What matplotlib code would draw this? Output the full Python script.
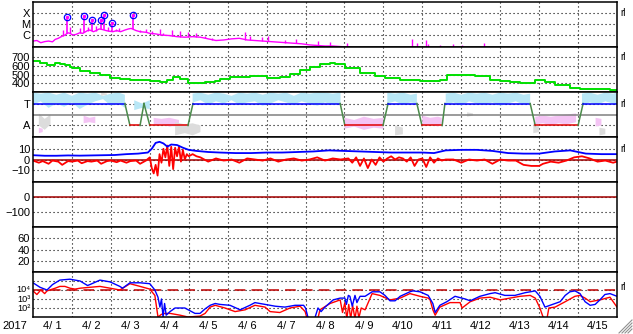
import numpy as np
import matplotlib
matplotlib.use('Agg')
import matplotlib.pyplot as plt
from matplotlib.lines import Line2D

plt.rcParams['font.family'] = ['Liberation Sans', 'DejaVu Sans']

# ---------------------------------------------------------------------------
# data (time in days from 2017-04-01 00:00)
# ---------------------------------------------------------------------------
days = ['4/ 1', '4/ 2', '4/ 3', '4/ 4', '4/ 5', '4/ 6', '4/ 7', '4/ 8', '4/ 9',
        '4/10', '4/11', '4/12', '4/13', '4/14', '4/15']

# X-ray flux, log10(W/m2)
xray_t = [0, 0.1, 0.2, 0.3, 0.4, 0.5, 0.57, 0.65, 0.75, 0.82, 0.9, 0.95, 1.02, 1.1, 1.2,
          1.28, 1.4, 1.46, 1.55, 1.62, 1.7, 1.78, 1.88, 1.95, 2.05, 2.15, 2.25, 2.36, 2.45,
          2.52, 2.65, 2.75, 2.9, 3.0, 3.15, 3.3, 3.5, 3.7, 3.9, 4.1, 4.3, 4.5, 4.7, 4.9,
          5.1, 5.3, 5.5, 5.7, 5.9, 6.1, 6.3, 6.5, 6.7, 6.9, 7.1, 7.3, 7.5, 7.7, 7.9, 8.1,
          8.3, 8.6, 9.0, 15.0]
xray_v = [-6.55, -6.5, -6.7, -6.6, -6.55, -6.62, -6.4, -6.3, -6.1, -6.0, -5.8, -5.85, -6.0,
          -5.95, -5.8, -5.85, -5.6, -5.55, -5.7, -5.6, -5.45, -5.5, -5.6, -5.65, -5.7, -5.6,
          -5.7, -5.55, -5.45, -5.4, -5.6, -5.7, -5.75, -5.85, -5.9, -6.0, -6.05, -6.15, -6.2,
          -6.15, -6.2, -6.35, -6.5, -6.45, -6.35, -6.3, -6.45, -6.5, -6.55, -6.6, -6.65, -6.7,
          -6.75, -6.8, -6.9, -6.95, -7.0, -7.0, -7.05, -7.1, -7.2, -7.3, -7.4, -7.4]
spike_t = [0.77, 0.95, 1.21, 1.41, 1.62, 1.93, 2.13, 2.21, 2.41, 2.75, 2.9, 3.06, 3.26, 3.34,
           3.57, 3.78, 3.98, 4.19, 4.42, 4.6, 5.45, 5.57, 5.88, 6.04, 6.47, 6.76, 7.32, 7.63,
           8.07, 9.74, 9.86, 10.1, 10.15, 10.45, 10.79, 11.02, 11.58, 13.67, 14.41]
spike_v = [-5.55, -5.27, -5.36, -5.27, -5.18, -5.27, -5.45, -5.36, -5.45, -5.55, -5.45, -5.64,
           -5.45, -5.82, -5.55, -5.64, -5.73, -5.82, -6.09, -6.27, -5.73, -6.09, -6.18, -6.09,
           -6.45, -6.36, -6.55, -6.64, -6.73, -6.36, -6.73, -6.45, -6.82, -6.91, -6.82, -6.91,
           -6.73, -7.0, -7.0]
flare_t = [0.87, 1.31, 1.52, 1.75, 1.82, 2.03, 2.57]
flare_v = [-4.36, -4.27, -4.64, -4.64, -4.18, -4.91, -4.18]

# solar wind speed, km/s
speed_t = [0, 0.18, 0.36, 0.45, 0.57, 0.69, 0.82, 0.95, 1.0, 1.21, 1.46, 1.72, 1.98, 2.23,
           2.49, 2.75, 3.0, 3.26, 3.45, 3.6, 3.78, 3.98, 4.16, 4.42, 4.68, 4.8, 5.06, 5.57,
           6.0, 6.34, 6.6, 6.86, 7.12, 7.37, 7.63, 7.76, 8.01, 8.4, 8.78, 9.04, 9.43, 9.94,
           10.45, 10.63, 10.97, 11.36, 11.74, 12.0, 12.25, 12.51, 12.9, 13.15, 13.41, 13.79,
           14.05, 14.56, 14.82, 15.0]
speed_v = [655, 635, 615, 610, 630, 625, 612, 590, 575, 545, 520, 492, 465, 450, 443, 435,
           423, 420, 440, 473, 455, 403, 408, 412, 423, 455, 470, 480, 460, 470, 505, 550,
           590, 620, 640, 625, 575, 525, 490, 458, 435, 423, 443, 496, 492, 480, 435, 423,
           415, 403, 443, 415, 377, 346, 339, 339, 327, 320]

# IMF sector (T = +1, A = -1)
sector_t = [0, 2.36, 2.49, 2.75, 2.85, 3.0, 3.98, 4.11, 7.89, 8.01, 8.99, 9.12, 9.86, 9.99,
            10.51, 10.58, 12.77, 12.9, 14.0, 14.13, 15]
sector_v = [1, 1, -1, -1, 1, -1, -1, 1, 1, -1, -1, 1, 1, -1, -1, 1, 1, -1, -1, 1, 1]

# IMF angle clouds (upper / lower extent)
phiT_t = [0, 0.2, 0.4, 0.6, 0.8, 1.0, 1.2, 1.4, 1.6, 1.8, 2.0, 2.2, 2.36, np.nan,
          2.6, 2.8, 3.0, np.nan,
          4.1, 4.3, 4.5, 4.7, 4.9, 5.1, 5.3, 5.5, 5.7, 5.9, 6.1, 6.3, 6.5, 6.7, 6.9, 7.1,
          7.3, 7.5, 7.7, 7.9, np.nan,
          9.1, 9.3, 9.5, 9.7, 9.86, np.nan,
          10.6, 10.8, 11.0, 11.2, 11.4, 11.6, 11.8, 12.0, 12.2, 12.4, 12.6, 12.77, np.nan,
          14.1, 14.3, 14.5, 14.7, 14.9, 15.0]
phiT_hi = [2.0, 1.9, 2.0, 1.8, 2.0, 1.7, 2.0, 1.9, 2.0, 1.7, 1.9, 2.0, 1.8, np.nan,
           1.3, 1.0, 1.3, np.nan,
           1.9, 2.0, 1.8, 2.0, 1.9, 1.7, 2.0, 1.9, 2.0, 1.8, 2.0, 1.9, 2.0, 1.7, 2.0, 1.9,
           2.0, 2.0, 1.9, 2.0, np.nan,
           2.0, 1.9, 2.0, 1.8, 1.9, np.nan,
           1.9, 2.0, 1.8, 2.0, 1.9, 2.0, 1.8, 2.0, 1.9, 2.0, 1.8, 1.9, np.nan,
           1.9, 2.0, 1.8, 2.0, 1.9, 2.0]
phiT_lo = [0.9, 1.2, 0.6, 1.0, 0.7, 1.1, 0.5, 0.9, 1.2, 1.4, 0.8, 1.0, 0.6, np.nan,
           0.4, 0.6, 0.5, np.nan,
           1.1, 1.3, 0.9, 1.2, 1.0, 1.3, 0.9, 1.1, 1.2, 0.8, 1.0, 1.3, 1.1, 0.9, 1.2, 1.0,
           0.8, 1.1, 0.9, 1.0, np.nan,
           1.0, 1.2, 0.9, 1.1, 1.0, np.nan,
           0.9, 1.1, 0.8, 1.2, 1.0, 0.9, 1.1, 0.8, 1.0, 1.2, 0.9, 1.0, np.nan,
           0.8, 1.1, 0.9, 1.2, 1.0, 0.9]
phiA_t = [0.15, 0.25, np.nan, 1.3, 1.45, 1.6, np.nan, 3.1, 3.3, 3.5, 3.75, np.nan,
          8.0, 8.25, 8.5, 8.75, 9.0, np.nan, 10.0, 10.2, 10.4, 10.5, np.nan,
          12.9, 13.1, 13.3, 13.5, 13.7, 13.95, np.nan, 14.45, 14.6]
phiA_hi = [-1.2, -1.3, np.nan, -0.1, -0.3, -0.2, np.nan, -0.3, -0.4, -0.3, -0.5, np.nan,
           -0.3, -0.5, -0.2, -0.4, -0.3, np.nan, -0.1, -0.3, -0.2, -0.3, np.nan,
           -0.2, -0.1, -0.2, -0.1, 0.0, 0.1, np.nan, -0.3, -0.4]
phiA_lo = [-1.7, -1.6, np.nan, -0.8, -0.7, -0.8, np.nan, -1.0, -0.9, -1.1, -1.0, np.nan,
           -1.3, -1.1, -1.4, -1.2, -1.3, np.nan, -1.0, -0.9, -1.1, -0.8, np.nan,
           -0.9, -0.8, -1.0, -0.8, -0.9, -0.7, np.nan, -1.1, -1.0]
phiG_t = [0.15, 0.3, 0.45, np.nan, 1.75, 1.9, np.nan, 3.65, 3.9, 4.1, 4.3, np.nan,
          9.3, 9.5, np.nan, 11.15, 11.3, np.nan, 12.85, 13.0, np.nan, 14.55, 14.7]
phiG_hi = [0.1, -0.4, 0.0, np.nan, 2.0, 1.9, np.nan, -0.7, -0.9, -0.8, -1.0, np.nan,
           -1.0, -1.2, np.nan, 0.2, 0.1, np.nan, -0.8, -0.9, np.nan, -1.2, -1.3]
phiG_lo = [-1.0, -1.4, -0.9, np.nan, 1.7, 1.8, np.nan, -1.9, -1.7, -1.9, -1.6, np.nan,
           -1.9, -1.8, np.nan, -0.2, -0.1, np.nan, -1.7, -1.6, np.nan, -1.9, -1.8]

# IMF Bt (blue) and Bz (red), nT
bt_t = [0, 0.3, 0.6, 0.9, 1.2, 1.5, 1.8, 2.1, 2.4, 2.7, 2.95, 3.05, 3.15, 3.25, 3.35, 3.45,
        3.55, 3.7, 3.85, 4.0, 4.2, 4.5, 4.8, 5.2, 5.6, 6.0, 6.4, 6.8, 7.2, 7.6, 8.0, 8.4,
        8.8, 9.2, 9.6, 10.0, 10.3, 10.6, 11.0, 11.4, 11.8, 12.2, 12.6, 13.0, 13.4, 13.8,
        14.2, 14.6, 15.0]
bt_v = [4, 3.5, 3.5, 3.8, 3.6, 3.8, 4, 4.2, 5, 5.5, 6.5, 10, 15.5, 16.5, 15, 12, 14, 13.5,
        11, 9, 8, 7, 6.5, 6, 6, 6.5, 6.5, 7, 7.5, 8.5, 8, 7.5, 7, 6.5, 6.5, 6.5, 6, 8.5, 9,
        9, 8, 6, 5.5, 5.5, 7.5, 8.5, 5.5, 5, 5]
bz_t = [0, 0.15, 0.25, 0.4, 0.5, 0.65, 0.75, 0.9, 1.0, 1.15, 1.25, 1.4, 1.5, 1.65, 1.75,
        1.9, 2.0, 2.15, 2.25, 2.4, 2.5, 2.65, 2.75, 2.9, 3.0, 3.05, 3.1, 3.15, 3.2, 3.25,
        3.3, 3.35, 3.4, 3.45, 3.5, 3.55, 3.6, 3.65, 3.7, 3.75, 3.8, 3.85, 3.9, 3.95, 4.0,
        4.1, 4.2, 4.3, 4.5, 4.7, 4.9, 5.1, 5.3, 5.5, 5.7, 5.9, 6.1, 6.3, 6.5, 6.7, 6.9,
        7.1, 7.3, 7.5, 7.7, 7.9, 8.1, 8.2, 8.3, 8.4, 8.5, 8.6, 8.7, 8.8, 8.9, 9.0, 9.1,
        9.2, 9.3, 9.4, 9.5, 9.6, 9.7, 9.8, 9.9, 10.0, 10.1, 10.2, 10.3, 10.4, 10.5, 10.6,
        10.8, 11.0, 11.2, 11.4, 11.6, 11.8, 12.0, 12.2, 12.4, 12.6, 12.8, 13.0, 13.1, 13.3,
        13.5, 13.7, 13.9, 14.1, 14.3, 14.5, 14.7, 14.9, 15.0]
bz_v = [-1, -3, -1.5, -4, -1, -2, -5, -1.5, -2, -1, -3.5, -1.5, -2, -1, -4, -1.5, -1, -2.5,
        -1, -3, -1.5, -1, -4, -1, 2, -8, -13, -5, -15, 5, -3, 10, 2, 13, -6, 12, -9, 11, 3,
        12, -2, 9, 0, 5, 3, 5, 3, 2, -2, 1, -1, 0, -3, 1, 0, -1, 1, -2, 0, 1, -1, 0, 2, -1,
        1, 0, 1, -3, 2, -6, 1, -8, 0, -5, 2, -2, 1, 3, 0, 2, 1, -2, 2, -6, 0, 1, -7, 2, -3,
        1, -1, 0, 0, -3, 0, -1, 0, -4, 0, -1, -1, -5, -6, -6, -4, -2, -3, -1, 2, 3, 1, -2,
        -1, -3, -2]

# >2MeV electron flux, log10 (blue / red)
eb_t = [0, 0.18, 0.36, 0.5, 0.69, 0.95, 1.21, 1.4, 1.46, 1.72, 1.98, 2.23, 2.3, 2.49, 2.75,
        3.0, 3.13, 3.21, 3.26, 3.3, 3.34, 3.38, 3.42, 3.52, 3.65, 3.9, 4.16, 4.29, 4.42,
        4.55, 4.68, 4.8, 5.06, 5.32, 5.57, 5.7, 5.96, 6.22, 6.47, 6.73, 6.95, 7.0, 7.06,
        7.12, 7.24, 7.32, 7.4, 7.5, 7.71, 7.89, 8.01, 8.05, 8.1, 8.14, 8.2, 8.27, 8.32,
        8.4, 8.53, 8.71, 8.91, 9.04, 9.17, 9.3, 9.43, 9.68, 9.76, 9.94, 10.15, 10.27,
        10.33, 10.45, 10.63, 10.84, 11.1, 11.23, 11.48, 11.74, 11.87, 12.12, 12.38, 12.64,
        12.9, 13.02, 13.15, 13.28, 13.54, 13.67, 13.79, 13.92, 14.05, 14.18, 14.31, 14.44,
        14.56, 14.69, 14.82, 15.0]
eb_v = [4.8, 4.3, 4.0, 4.6, 5.1, 5.2, 5.0, 4.5, 4.6, 5.1, 4.9, 4.4, 4.2, 4.8, 4.8, 4.7, 4.0,
        3.2, 2.1, 3.0, 1.0, 2.5, 1.2, 1.6, 2.0, 2.0, 1.4, 1.4, 1.9, 2.3, 2.5, 2.4, 2.3, 1.8,
        2.3, 2.6, 2.4, 2.2, 2.1, 2.3, 2.3, 2.0, 1.0, 0.8, 0.9, 2.0, 1.6, 2.1, 2.9, 3.1, 3.1,
        2.4, 3.4, 3.3, 2.2, 3.4, 2.6, 3.3, 3.3, 3.8, 3.8, 3.4, 2.8, 2.8, 3.3, 3.8, 3.9, 3.8,
        3.4, 2.5, 1.5, 2.3, 2.7, 3.3, 3.0, 2.8, 3.3, 3.6, 3.7, 3.4, 3.4, 3.7, 3.9, 3.3, 2.1,
        2.3, 2.7, 3.4, 3.8, 3.9, 3.6, 2.7, 2.3, 2.4, 2.9, 3.5, 3.6, 3.3]
er_t = [0, 0.1, 0.2, 0.3, 0.36, 0.57, 0.69, 0.82, 0.95, 1.08, 1.21, 1.46, 1.72, 1.98, 2.23,
        2.49, 2.75, 3.0, 3.13, 3.21, 3.3, 3.39, 3.52, 3.78, 3.98, 4.29, 4.42, 4.55, 4.68,
        4.93, 5.19, 5.45, 5.7, 5.96, 6.09, 6.34, 6.6, 6.86, 6.99, 7.06, 7.3, 7.37, 7.63,
        7.89, 7.95, 8.01, 8.06, 8.11, 8.16, 8.21, 8.27, 8.32, 8.37, 8.43, 8.53, 8.71, 8.91,
        9.17, 9.43, 9.68, 9.94, 10.15, 10.2, 10.27, 10.33, 10.45, 10.71, 10.97, 11.02,
        11.23, 11.48, 11.74, 12.0, 12.25, 12.51, 12.77, 12.9, 13.02, 13.1, 13.2, 13.25,
        13.41, 13.67, 13.92, 14.05, 14.18, 14.31, 14.56, 14.82, 15.0]
er_v = [3.9, 3.5, 4.0, 3.6, 3.9, 4.2, 4.4, 4.4, 4.2, 4.1, 4.2, 4.3, 4.4, 4.2, 4.0, 4.7, 4.4,
        4.1, 3.4, 1.0, 1.3, 1.4, 1.4, 1.2, 1.0, 1.1, 1.4, 2.1, 2.3, 2.0, 1.6, 1.8, 2.3, 2.1,
        1.6, 1.5, 2.0, 2.2, 1.6, 0.5, 0.5, 1.8, 2.5, 2.9, 1.5, 2.6, 0.8, 2.4, 0.8, 2.3, 0.8,
        2.2, 0.9, 2.0, 1.8, 3.6, 3.4, 2.9, 3.1, 3.6, 3.3, 3.1, 2.9, 1.8, 1.2, 2.1, 2.6, 2.6,
        2.0, 2.7, 3.1, 3.2, 2.9, 3.1, 3.3, 3.4, 3.1, 2.0, 1.0, 0.8, 2.0, 2.1, 2.7, 3.3, 3.4,
        3.1, 2.7, 2.9, 3.2, 2.1]
eflux_ticks = [1.9, 3.0, 4.1]
eflux_labels = ['10²', '10³', '10⁴']

# ---------------------------------------------------------------------------
# layout: seven stacked panels, pixel geometry of the original
# ---------------------------------------------------------------------------
W, H = 633, 334
L, R, TOP, PH = 33, 617, 2, 45
fig = plt.figure(figsize=(W / 100, H / 100), dpi=100)
axs = []
for i in range(7):
    top = TOP + PH * i
    ax = fig.add_axes([L / W, 1 - (top + PH) / H, (R - L) / W, PH / H])
    ax.set_xlim(0, 15)
    ax.set_xticks(range(1, 15))
    ax.tick_params(length=0, labelsize=8, pad=2)
    ax.tick_params(axis='x', labelbottom=False)
    ax.grid(True, color='black', linestyle=(0, (1, 2.6)), linewidth=0.8)
    for s in ax.spines.values():
        s.set_linewidth(1.1)
    ax.set_axisbelow(True)
    axs.append(ax)

# panel 1: X-ray
ax = axs[0]
ax.set_ylim(-7.09, -3.0)
ax.set_yticks([-6, -5, -4], ['C', 'M', 'X'])
ax.plot(xray_t, xray_v, color='#ff00ff', lw=1.0)
base = np.interp(spike_t, xray_t, xray_v)
ax.vlines(spike_t, base, spike_v, color='#ff00ff', lw=1.0)
fbase = np.interp(flare_t, xray_t, xray_v)
ax.vlines(flare_t, fbase, flare_v, color='#ff00ff', lw=1.2)
ax.plot(flare_t, flare_v, 'o', ms=4.6, mfc='none', mec='#0000ff', mew=0.9)
ax.plot(flare_t, flare_v, 'o', ms=1.5, color='#ff00ff')

# panel 2: solar wind speed
ax = axs[1]
ax.set_ylim(300, 820)
ax.set_yticks([400, 500, 600, 700])
ax.step(speed_t, speed_v, where='post', color='#00e000', lw=1.4)

# panel 3: sector
ax = axs[2]
ax.set_ylim(-2.05, 2.05)
ax.set_yticks([1, -1], ['T', 'A'])
ax.fill_between(phiT_t, phiT_lo, phiT_hi, color='#b8e7f6', lw=0)
ax.fill_between(phiA_t, phiA_lo, phiA_hi, color='#f4c4f4', lw=0)
ax.fill_between(phiG_t, phiG_lo, phiG_hi, color='#dcdcdc', lw=0)
ax.axhline(0, color='#808080', lw=1.1)
for i in range(len(sector_t) - 1):
    a, b = sector_v[i], sector_v[i + 1]
    c = '#0000ff' if a == b == 1 else ('#e00000' if a == b == -1 else '#4a8a4a')
    ax.plot(sector_t[i:i + 2], sector_v[i:i + 2], color=c, lw=1.1)

# panel 4: IMF
ax = axs[3]
ax.set_ylim(-21, 21)
ax.set_yticks([10, 0, -10])
ax.axhline(0, color='#a00000', lw=1.1)
ax.plot(bz_t, bz_v, color='#ff0000', lw=1.3)
ax.plot(bt_t, bt_v, color='#0000ff', lw=1.3)

# panel 5: Dst (no data)
ax = axs[4]
ax.set_ylim(-200, 100)
ax.set_yticks([0, -100])
ax.axhline(0, color='#a00000', lw=1.1)

# panel 6: empty
ax = axs[5]
ax.set_ylim(0, 80)
ax.set_yticks([20, 40, 60])

# panel 7: electron flux
ax = axs[6]
ax.set_ylim(1, 6)
ax.set_yticks([2, 3, 4, 5], ['', '', '', ''])
for y, s in zip(eflux_ticks, eflux_labels):
    ax.text(-0.004, y, s, transform=ax.get_yaxis_transform(), ha='right', va='center',
            fontsize=6.6, linespacing=1.0)
ax.axhline(4, color='#c00000', lw=1.1, linestyle=(0, (7, 4)))
ax.plot(er_t, er_v, color='#ff0000', lw=1.0)
ax.plot(eb_t, eb_v, color='#0000ff', lw=1.0)
ax.set_xticks(np.arange(0.5, 15, 1), minor=True)
ax.set_xticklabels(days, minor=True)
ax.tick_params(axis='x', which='minor', length=0, labelsize=8, pad=3, labelbottom=True)

# small marks on the right edge
for i, y in [(0, -4), (1, 700), (2, 1), (3, 10), (6, 4.3)]:
    axs[i].text(1.006, y, 'rl', transform=axs[i].get_yaxis_transform(), fontsize=7,
                va='center', ha='left')

fig.text(2 / W, 1 - 326 / H, '2017', fontsize=8, va='center')

# resize grip in the corner
for k in range(4):
    fig.add_artist(Line2D([(619 + 3 * k) / W, (632) / W],
                          [1 - 333 / H, 1 - (333 - 13 + 3 * k) / H],
                          color='#909090', lw=0.8))

fig.savefig('out.png', dpi=100)
